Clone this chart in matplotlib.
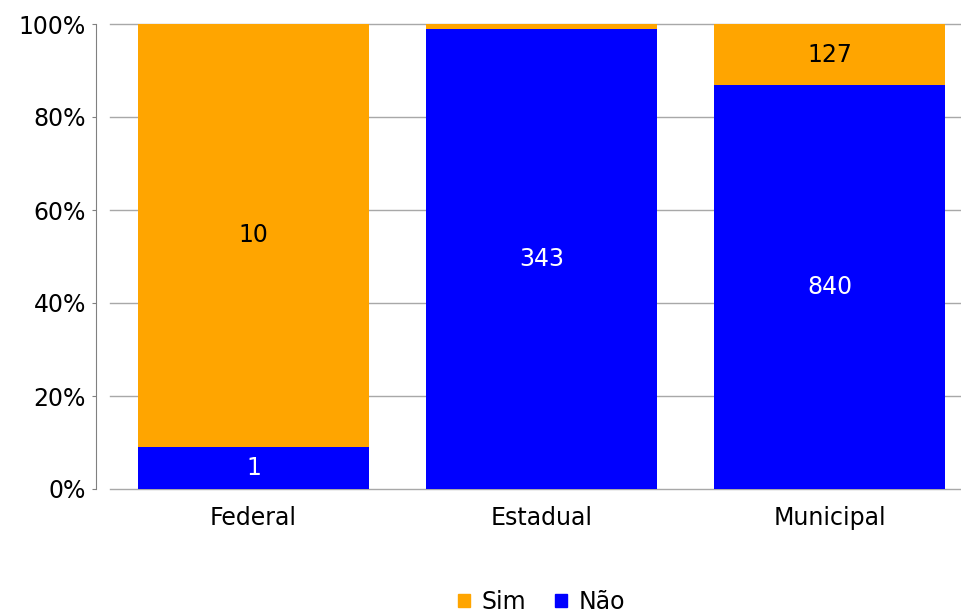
import numpy as np
import matplotlib.pyplot as plt
from matplotlib.patches import Patch

categories = ['Federal', 'Estadual', 'Municipal']
sim = [10, 4, 127]
nao = [1, 343, 840]
show_sim = [True, False, True]

ORANGE = '#FFA500'
BLUE = '#0000FF'
FS = 17

sim = np.array(sim, dtype=float)
nao = np.array(nao, dtype=float)
total = sim + nao
nao_pct = nao / total * 100
sim_pct = sim / total * 100

W, H = 961, 614
fig = plt.figure(figsize=(W / 100, H / 100), dpi=100)
ax = fig.add_axes([109.5 / W, (H - 489) / H, 864 / W, 465 / H])

x = np.arange(len(categories))
ax.bar(x, nao_pct, width=0.8, color=BLUE, zorder=3)
ax.bar(x, sim_pct, width=0.8, bottom=nao_pct, color=ORANGE, zorder=3)

# value labels
for i in range(len(categories)):
    ax.text(x[i], nao_pct[i] / 2, f'{int(nao[i])}', ha='center', va='center',
            color='white', fontsize=FS, zorder=4)
    if show_sim[i]:
        ax.text(x[i], nao_pct[i] + sim_pct[i] / 2, f'{int(sim[i])}', ha='center',
                va='center', color='black', fontsize=FS, zorder=4)

for s in ['top', 'right', 'bottom']:
    ax.spines[s].set_visible(False)
ax.spines['left'].set_position(('outward', 10))
ax.spines['left'].set_color('#808080')

ax.set_xlim(-0.5, 2.5)
ax.set_ylim(0, 100)
ax.set_yticks(np.arange(0, 101, 20))
ax.set_yticklabels([f'{v}%' for v in range(0, 101, 20)])
ax.set_xticks(x)
ax.set_xticklabels(categories)
ax.tick_params(axis='x', length=0, pad=12, labelsize=FS)
ax.tick_params(axis='y', length=3, color='#808080', pad=4, labelsize=FS)

ax.yaxis.grid(True, color='#A8A8A8', linewidth=1, zorder=0)
for gl in ax.get_ygridlines():
    gl.set_clip_on(False)

handles = [Patch(color=ORANGE, label='Sim'), Patch(color=BLUE, label='Não')]
ax.legend(handles=handles, loc='center', bbox_to_anchor=(0.5, -0.243), ncol=2,
          frameon=False, fontsize=FS, handlelength=0.5, handleheight=0.5,
          handletextpad=0.5, columnspacing=1.2)

fig.savefig('out.png', dpi=100)
